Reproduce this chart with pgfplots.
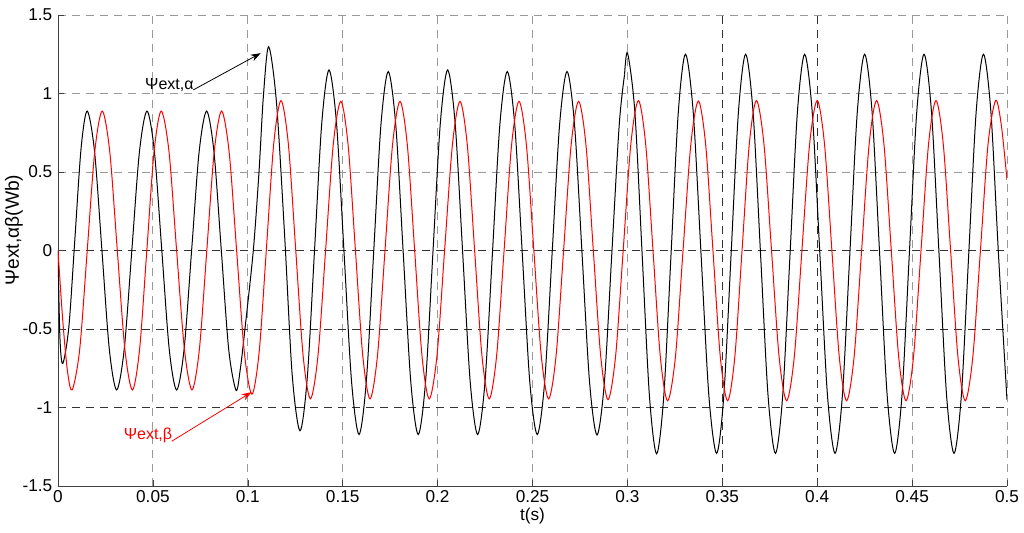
\documentclass[border=0pt]{standalone}
\usepackage{fontspec}
\setmainfont{Liberation Sans}
\usepackage{pgfplots}
\usepackage{pgfplotstable}
\pgfplotsset{compat=1.18}
\usetikzlibrary{arrows.meta}

% psi_ext,alpha (black), first part up to the kink near t=0.3
\pgfplotstableread{
t v
0 0
0.0010 -0.55
0.0025 -0.72
0.00573 -0.485
0.00895 0.084
0.01218 0.653
0.0154 0.888
0.01928 0.628
0.02315 0
0.02703 -0.628
0.0309 -0.888
0.0349 -0.628
0.0389 0
0.0429 0.628
0.0469 0.888
0.0508 0.628
0.0547 0
0.0586 -0.628
0.0625 -0.888
0.06645 -0.628
0.0704 0
0.07435 0.628
0.0783 0.888
0.08218 0.628
0.08605 0
0.08993 -0.629
0.0938 -0.890
0.0960 -0.76
0.0985 -0.50
0.1029 0.0
0.1059 0.50
0.1082 0.98
0.1110 1.298
0.11513 0.940
0.1195 0.075
0.12338 -0.790
0.1275 -1.148
0.13133 -0.811
0.13515 0
0.13898 0.813
0.1428 1.150
0.14675 0.810
0.1507 -0.011
0.15465 -0.832
0.1586 -1.172
0.16245 -0.833
0.1663 -0.016
0.17015 0.801
0.1740 1.140
0.17795 0.801
0.1819 -0.016
0.18585 -0.833
0.1898 -1.172
0.19368 -0.832
0.19755 -0.011
0.20143 0.810
0.2053 1.150
0.20925 0.810
0.2132 -0.011
0.21715 -0.832
0.2211 -1.172
0.2250 -0.833
0.2289 -0.016
0.2328 0.801
0.2367 1.140
0.24065 0.801
0.2446 -0.016
0.24855 -0.833
0.2525 -1.172
0.25643 -0.833
0.26035 -0.016
0.26428 0.801
0.2682 1.140
0.27215 0.801
0.2761 -0.018
0.28005 -0.836
0.2840 -1.175
0.2879 -0.836
0.2918 -0.018
0.2957 0.801
0.2985 1.12
}\alphaA

% psi_ext,alpha (black), after the kink
\pgfplotstableread{
t v
0.2985 1.12
0.3001 1.257
0.30393 0.883
0.30775 -0.019
0.31158 -0.921
0.3154 -1.295
0.3192 -0.922
0.3230 -0.023
0.3268 0.877
0.3306 1.250
0.3347 0.878
0.3388 -0.021
0.3429 -0.920
0.3470 -1.292
0.35083 -0.920
0.35465 -0.021
0.35848 0.878
0.3623 1.250
0.36623 0.878
0.37015 -0.021
0.37408 -0.920
0.3780 -1.292
0.38185 -0.920
0.3857 -0.021
0.38955 0.878
0.3934 1.250
0.3974 0.878
0.4014 -0.021
0.4054 -0.920
0.4094 -1.292
0.4133 -0.920
0.4172 -0.021
0.4211 0.878
0.4250 1.250
0.42895 0.878
0.4329 -0.021
0.43685 -0.920
0.4408 -1.292
0.44468 -0.920
0.44855 -0.021
0.45243 0.878
0.4563 1.250
0.46025 0.878
0.4642 -0.021
0.46815 -0.920
0.4721 -1.292
0.47598 -0.920
0.47985 -0.021
0.48373 0.878
0.4876 1.250
0.49155 0.878
0.4955 -0.021
0.5000 -0.95
}\alphaB

% psi_ext,beta (red)
\pgfplotstableread{
t v
0 0
0.0025 -0.444
0.0050 -0.769
0.0075 -0.888
0.01145 -0.628
0.0154 0
0.01935 0.628
0.0233 0.888
0.02728 0.628
0.03125 0
0.03523 -0.628
0.0392 -0.888
0.0430 -0.628
0.0468 0
0.0506 0.628
0.0544 0.888
0.0585 0.628
0.0625 0
0.0666 -0.628
0.0706 -0.888
0.0745 -0.628
0.0784 0
0.0823 0.628
0.0862 0.888
0.0902 0.624
0.0942 -0.014
0.0982 -0.651
0.1022 -0.915
0.10603 -0.641
0.10985 0.020
0.11368 0.681
0.1175 0.955
0.12138 0.677
0.12525 0.005
0.12913 -0.667
0.1330 -0.945
0.1370 -0.667
0.1410 0.003
0.1450 0.672
0.1490 0.950
0.15285 0.672
0.1567 0.003
0.16055 -0.667
0.1644 -0.945
0.16835 -0.667
0.1723 0.003
0.17625 0.672
0.1802 0.950
0.18405 0.672
0.1879 0.003
0.19175 -0.667
0.1956 -0.945
0.1997 -0.667
0.2037 0.003
0.2078 0.672
0.2118 0.950
0.21565 0.672
0.2195 0.003
0.22335 -0.667
0.2272 -0.945
0.23113 -0.667
0.23505 0.003
0.23898 0.672
0.2429 0.950
0.2468 0.672
0.2507 0.003
0.2546 -0.667
0.2585 -0.945
0.26245 -0.667
0.2664 0.003
0.27035 0.672
0.2743 0.950
0.27818 0.672
0.28205 0
0.28593 -0.672
0.2898 -0.950
0.2938 -0.671
0.2978 0.003
0.3018 0.676
0.3058 0.955
0.30965 0.675
0.3135 -0.001
0.31735 -0.677
0.3212 -0.957
0.3253 -0.678
0.3293 -0.003
0.3334 0.673
0.3374 0.952
0.34125 0.673
0.3451 -0.003
0.34895 -0.678
0.3528 -0.957
0.3566 -0.677
0.3604 -0.001
0.3642 0.675
0.3680 0.955
0.37198 0.675
0.37595 -0.001
0.37993 -0.677
0.3839 -0.957
0.38793 -0.677
0.39195 -0.001
0.39598 0.675
0.4000 0.955
0.40388 0.675
0.40775 -0.001
0.41163 -0.677
0.4155 -0.957
0.41945 -0.677
0.4234 -0.001
0.42735 0.675
0.4313 0.955
0.43518 0.675
0.43905 -0.001
0.44293 -0.677
0.4468 -0.957
0.45075 -0.677
0.4547 -0.001
0.45865 0.675
0.4626 0.955
0.46645 0.675
0.4703 -0.001
0.47415 -0.677
0.4780 -0.957
0.4820 -0.677
0.4860 -0.001
0.4900 0.675
0.4940 0.955
0.4970 0.80
0.5000 0.45
}\betatbl

\begin{document}
\fontsize{8}{9.6}\selectfont
\begin{tikzpicture}
\useasboundingbox (0,0) rectangle (512pt,266pt);
\begin{axis}[
  at={(29pt,23pt)}, anchor=south west,
  width=474.5pt, height=235.5pt, scale only axis,
  xmin=0, xmax=0.5, ymin=-1.5, ymax=1.5,
  axis x line*=bottom, axis y line*=left,
  axis line style={black!75, -},
  xtick={0,0.05,0.1,0.15,0.2,0.25,0.3,0.35,0.4,0.45,0.5},
  xticklabels={0,0.05,0.1,0.15,0.2,0.25,0.3,0.35,0.4,0.45,0.5},
  ytick={-1.5,-1,-0.5,0,0.5,1,1.5},
  yticklabels={-1.5,-1,-0.5,0,0.5,1,1.5},
  ticklabel style={font=\fontsize{8.6}{10}\selectfont},
  xticklabel style={yshift=0.5pt},
  tick align=inside, major tick length=3pt,
  tick style={black!75},
  grid=major,
  major grid style={black!40, dash pattern=on 4pt off 3pt, line width=0.4pt},
  extra y ticks={-1,-0.5,0}, extra y tick labels={,,},
  extra y tick style={grid=major, major grid style={black!80, dash pattern=on 4pt off 3pt, line width=0.4pt}},
  extra x ticks={0.35,0.4}, extra x tick labels={,},
  extra x tick style={grid=major, major grid style={black!80, dash pattern=on 4pt off 3pt, line width=0.4pt}},
  xlabel={t(s)},
  ylabel={Ψext,αβ(Wb)},
  every axis x label/.style={at={(axis description cs:0.5,0)}, anchor=center, yshift=-15pt, font=\fontsize{8.6}{10}\selectfont},
  every axis y label/.style={at={(axis description cs:-0.0464,0.5435)}, rotate=90, anchor=center, font=\fontsize{9.6}{11}\selectfont},
]
\addplot[black, line width=0.5pt, smooth] table[x=t, y=v] {\alphaA};
\addplot[black, line width=0.5pt, smooth] table[x=t, y=v] {\alphaB};
\addplot[red, line width=0.5pt, smooth] table[x=t, y=v] {\betatbl};

\draw[black, line width=0.4pt, -{Stealth[length=5pt, width=3.5pt]}]
  (axis cs:0.0713,1.023) -- (axis cs:0.1068,1.257);
\node[black] at (axis cs:0.0587,1.051) {Ψext,α};
\draw[red, line width=0.4pt, -{Stealth[length=5pt, width=3.5pt]}]
  (axis cs:0.0599,-1.215) -- (axis cs:0.1020,-0.902);
\node[red] at (axis cs:0.0474,-1.178) {Ψext,β};
\end{axis}
\end{tikzpicture}
\end{document}
